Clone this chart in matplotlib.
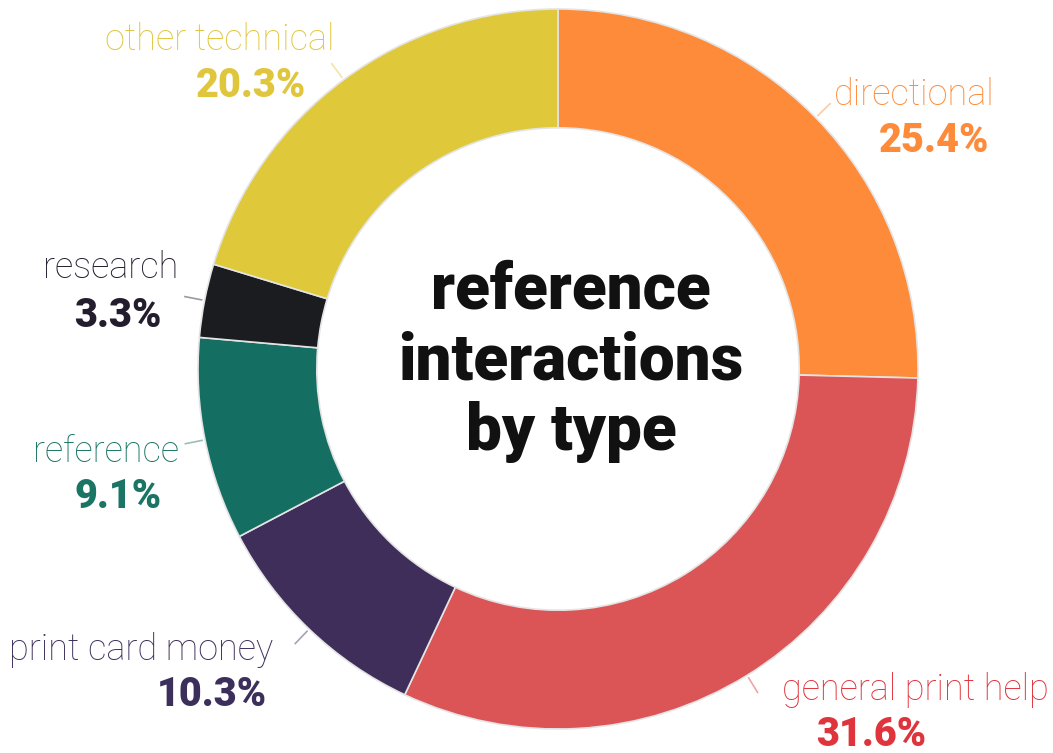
import matplotlib
matplotlib.use("Agg")
import matplotlib.pyplot as plt
import numpy as np

labels = ["directional", "general print help", "print card money",
          "reference", "research", "other technical"]
shares = [25.4, 31.6, 10.3, 9.1, 3.3, 20.3]
wedge_colors = ["#fd8b3a", "#db5456", "#3f2e5a", "#146f62", "#1b1c20", "#dfc93b"]
text_colors = ["#fd8b3a", "#e0343c", "#3d2f5b", "#1a7565", "#231d2e", "#e0c63c"]
title = "reference\ninteractions\nby type"

# label anchor points (pixels from top-left), name then percentage
label_pos = [(914, 95), (915, 690), (141, 650), (106, 452), (111, 268), (220, 40)]
pct_pos = [(934, 140), (871, 735), (212, 695), (118, 497), (118, 315), (251, 85)]

W, H = 1053, 753
cx, cy, R = 558, H - 369, 360

fig = plt.figure(figsize=(W / 100, H / 100), dpi=100)
ax = fig.add_axes([0, 0, 1, 1])

wedges, _ = ax.pie(shares, colors=wedge_colors, startangle=90, counterclock=False,
                   center=(cx, cy), radius=R, frame=True,
                   wedgeprops=dict(width=R * 0.33, edgecolor="#e4e4e4", linewidth=1.2))
ax.set_xlim(0, W)
ax.set_ylim(0, H)
ax.set_aspect("equal")
ax.axis("off")

for w, tc in zip(wedges, text_colors):
    mid = np.deg2rad((w.theta1 + w.theta2) / 2)
    r0, r1 = R + 3, R + 20
    ax.plot([cx + r0 * np.cos(mid), cx + r1 * np.cos(mid)],
            [cy + r0 * np.sin(mid), cy + r1 * np.sin(mid)],
            color=tc, alpha=0.45, lw=1.2)

for name, pct, tc, lp, pp in zip(labels, shares, text_colors, label_pos, pct_pos):
    ax.text(lp[0], H - lp[1], name, color=tc, fontsize=26, family="Roboto",
            weight="light", ha="center", va="center")
    ax.text(pp[0], H - pp[1], f"{pct:.1f}%", color=tc, fontsize=28.5, family="Roboto",
            weight="black", ha="center", va="center")

ax.text(cx + 13, cy + 8, title, color="#111111", fontsize=46, family="Roboto", weight="black",
        ha="center", va="center", linespacing=1.18)

fig.savefig("out.png", dpi=100)
